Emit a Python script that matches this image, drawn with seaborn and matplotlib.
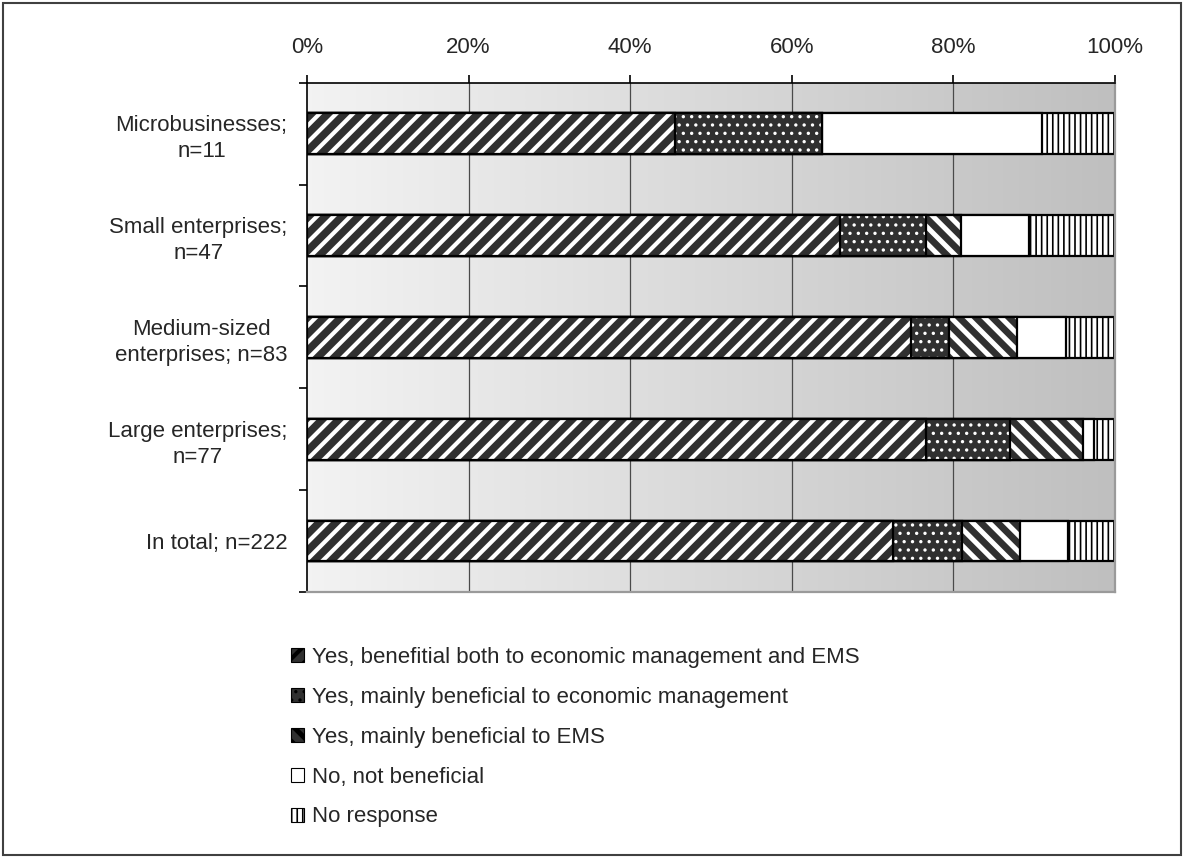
import numpy as np
import pandas as pd
import matplotlib
matplotlib.use("Agg")
import matplotlib.pyplot as plt
from matplotlib.patches import Patch, Rectangle
from matplotlib.colors import LinearSegmentedColormap
import seaborn as sns

# ---------------- data ----------------
categories = ["Microbusinesses;\nn=11", "Small enterprises;\nn=47",
              "Medium-sized\nenterprises; n=83", "Large enterprises;\nn=77",
              "In total; n=222"]
both_vals = [45.5, 66.0, 74.7, 76.6, 72.5]
econ_vals = [18.2, 10.6, 4.8, 10.4, 8.6]
ems_vals = [0.0, 4.3, 8.4, 9.1, 7.2]
no_vals = [27.3, 8.5, 6.0, 1.3, 5.9]
nores_vals = [9.1, 10.6, 6.1, 2.6, 5.9]
series_labels = ["Yes, benefitial both to economic management and EMS",
                 "Yes, mainly beneficial to economic management",
                 "Yes, mainly beneficial to EMS",
                 "No, not beneficial",
                 "No response"]
xtick_vals = [0, 20, 40, 60, 80, 100]
xtick_labels = ["0%", "20%", "40%", "60%", "80%", "100%"]

# ---------------- style ----------------
sns.set_theme(style="white")
plt.rcParams['font.family'] = ['Liberation Sans', 'DejaVu Sans']
FS = 16

DARK = '#303030'
styles = [  # face, hatch, hatch colour, hatch linewidth
    (DARK, '//', 'white', 3.0),
    (DARK, '..', 'white', 1.2),
    (DARK, '\\\\', 'white', 3.6),
    ('white', None, 'white', 1.0),
    ('white', '|||', 'black', 1.2),
]

fig = plt.figure(figsize=(11.86, 8.59), dpi=100)
ax = fig.add_axes([307/1186, 1-592/859, (1115-307)/1186, (592-82.7)/859])

df = pd.DataFrame({"cat": categories, "s0": both_vals, "s1": econ_vals,
                   "s2": ems_vals, "s3": no_vals, "s4": nores_vals})
cols = ["s0", "s1", "s2", "s3", "s4"]
cum = df[cols].cumsum(axis=1)

# background gradient
cmap = LinearSegmentedColormap.from_list("bg", ["#f3f3f3", "#bfbfbf"])
grad = np.linspace(0, 1, 256).reshape(1, -1)
ax.imshow(grad, extent=[0, 100, 4.5, -0.5], aspect='auto', cmap=cmap,
          zorder=0, interpolation='bilinear')
for xv in xtick_vals[1:-1]:
    ax.axvline(xv, color='#4a4a4a', lw=0.9, zorder=0.5)

# stacked bars: draw cumulative totals from the last series to the first
for i in range(4, -1, -1):
    face, hatch, hcol, hlw = styles[i]
    plot_df = pd.DataFrame({"cat": categories, "val": cum[cols[i]].values})
    n0 = len(ax.patches)
    with plt.rc_context({'hatch.linewidth': hlw}):
        sns.barplot(data=plot_df, x="val", y="cat", order=categories,
                    orient='h', color=face, saturation=1, width=0.4,
                    errorbar=None, ax=ax, hatch=hatch, edgecolor=hcol,
                    linewidth=0, zorder=2)
    for p in ax.patches[n0:]:
        if hasattr(p, "set_hatch_linewidth"):
            p.set_hatch_linewidth(hlw)
    n1 = len(ax.patches)
    sns.barplot(data=plot_df, x="val", y="cat", order=categories,
                orient='h', color='black', saturation=1, width=0.4,
                errorbar=None, ax=ax, zorder=2)
    for p in ax.patches[n1:]:
        p.set_facecolor('none')
        p.set_edgecolor('black')
        p.set_linewidth(1.6)

ax.set_xlim(0, 100)
ax.set_ylim(4.5, -0.5)
ax.set_xlabel("")
ax.set_ylabel("")

ax.xaxis.tick_top()
ax.set_xticks(xtick_vals)
ax.set_xticklabels(xtick_labels, fontsize=FS)
ax.tick_params(axis='x', which='major', direction='out', length=6, width=1.2,
               color='black', pad=12, top=True, bottom=False,
               labeltop=True, labelbottom=False)

ax.set_yticks(range(len(categories)))
ax.set_yticklabels(categories, fontsize=FS)
for t in ax.get_yticklabels():
    t.set_multialignment('center')
    t.set_linespacing(1.3)
ax.tick_params(axis='y', which='major', length=0, pad=14)
ax.set_yticks(np.arange(-0.5, len(categories), 1.0), minor=True)
ax.tick_params(axis='y', which='minor', direction='out', length=6,
               width=1.2, color='black', left=True)

for s in ['left', 'top']:
    ax.spines[s].set_color('black')
    ax.spines[s].set_linewidth(1.2)
for s in ['right', 'bottom']:
    ax.spines[s].set_color('#9a9a9a')
    ax.spines[s].set_linewidth(1.6)
ax.grid(False)

# legend
handles = []
for i in range(5):
    face, hatch, hcol, hlw = styles[i]
    h = Patch(facecolor=face, edgecolor=hcol if hatch else 'black',
              hatch=hatch, linewidth=0.8, label=series_labels[i])
    handles.append(h)
leg = fig.legend(handles=handles, loc='upper left',
                 bbox_to_anchor=(282/1186, 1-638/859), frameon=False,
                 fontsize=FS, handlelength=0.6, handleheight=0.6,
                 handletextpad=0.35, labelspacing=0.85, borderaxespad=0)
for h, st in zip(leg.legend_handles, styles):
    h.set_edgecolor('black')
    if hasattr(h, "set_hatch_linewidth"):
        h.set_hatch_linewidth(st[3])

# figure border
fig.patches.append(Rectangle((3/1186, 4/859), 1178/1186, 852/859,
                             transform=fig.transFigure, fill=False,
                             edgecolor='#404040', linewidth=1.5))

fig.savefig("out.png", dpi=100)
